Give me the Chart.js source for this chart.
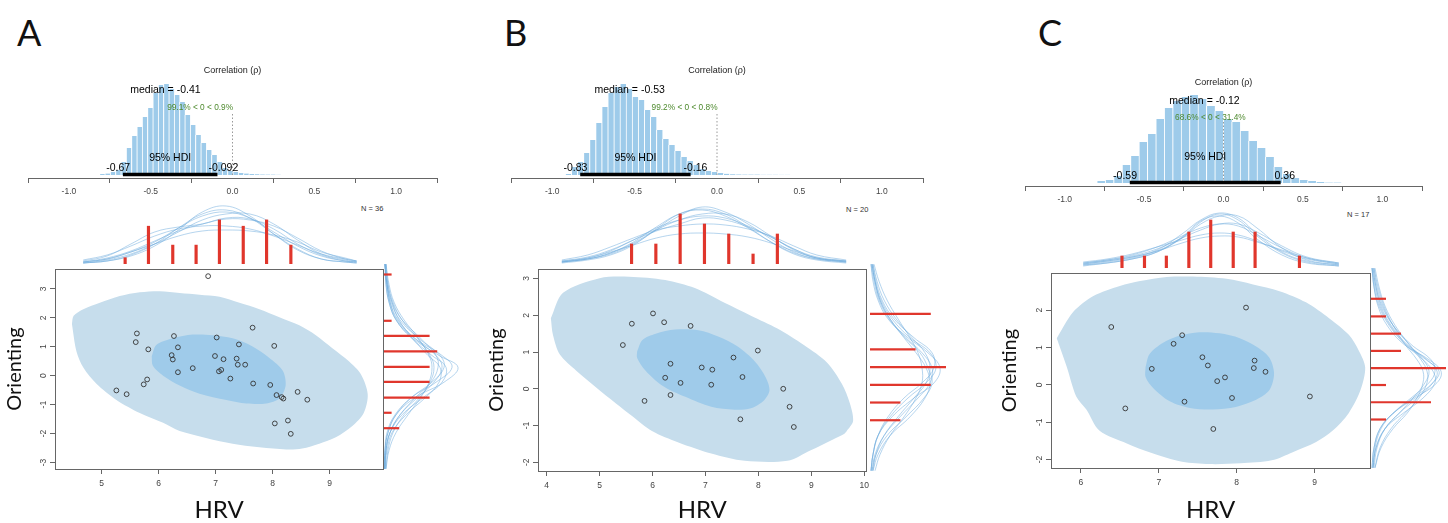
<!DOCTYPE html>
<html><head><meta charset="utf-8">
<script src="https://cdn.jsdelivr.net/npm/chart.js@4.4.1/dist/chart.umd.min.js"></script>
<style>
html,body{margin:0;padding:0;background:#fff}
body{position:relative;width:1448px;height:523px;overflow:hidden}
canvas{position:absolute}
.letter{position:absolute;font-family:Lato,"Open Sans",sans-serif;font-size:36px;color:#111;line-height:1}
.nlab{position:absolute;font-family:"Liberation Sans",Arial,sans-serif;font-size:7.5px;color:#333;line-height:1;white-space:nowrap}
</style></head><body>
<div class="letter" style="left:17px;top:14px">A</div>
<div class="letter" style="left:504px;top:14px">B</div>
<div class="letter" style="left:1038px;top:14px">C</div>
<div class="nlab" style="left:361px;top:205px">N = 36</div>
<div class="nlab" style="left:846px;top:206px">N = 20</div>
<div class="nlab" style="left:1347px;top:211px">N = 17</div>
<script>
// ================= DATA =================
const corrTicks = [-1, -0.5, 0, 0.5, 1];
const corrTickLabels = ['-1.0', '-0.5', '0.0', '0.5', '1.0'];

// ---- Panel A ----
const histStartA = -0.813, histBinA = 0.0326;
const histA = [1,1.5,3,5,13,27,39,48,58,67,82,90,91,86,80,73,60,50,40,32,25,20,13,7,4,3,2,1.5,1,0.8,0.6,0.5,0.4,0.3];
const medianA = -0.41, hdiA = [-0.67, -0.092], hdiLabelsA = ['-0.67', '-0.092'];
const pctLabelA = '99.1% < 0 < 0.9%', pctBelowA = 0.991, medianLabelA = 'median = -0.41';

const hrvA = [6.87,5.62,5.60,5.82,5.26,5.44,5.80,5.74,6.27,6.34,6.23,6.25,6.34,6.60,7.02,6.99,7.14,7.41,7.37,7.39,7.52,7.06,7.10,7.26,7.65,7.66,7.96,8.03,8.07,8.16,8.19,8.44,8.61,8.27,8.04,8.32];
const oriA = [3.44,1.46,1.16,0.91,-0.51,-0.64,-0.13,-0.30,1.37,0.98,0.71,0.56,0.12,0.26,1.32,0.68,0.57,1.08,0.59,0.38,0.38,0.15,0.20,-0.10,1.66,-0.27,-0.32,1.03,-0.67,-0.74,-0.79,-0.56,-0.83,-1.55,-1.65,-2.01];
const outerA = [[4.48,1.79],[4.51,2.07],[4.68,2.30],[4.97,2.52],[5.32,2.75],[5.67,2.88],[6.02,2.92],[6.37,2.86],[6.72,2.80],[7.07,2.73],[7.42,2.52],[7.77,2.30],[8.12,2.02],[8.47,1.74],[8.76,1.40],[9.05,0.95],[9.34,0.50],[9.55,0.05],[9.67,-0.64],[9.60,-1.29],[9.40,-1.74],[9.11,-2.13],[8.82,-2.35],[8.52,-2.52],[8.24,-2.55],[7.30,-2.35],[6.37,-1.91],[6.08,-1.63],[5.67,-1.29],[5.26,-0.84],[4.91,-0.28],[4.68,0.28],[4.56,0.84],[4.48,1.79]];
const innerA = [[5.88,0.67],[5.96,1.06],[6.25,1.29],[6.60,1.42],[6.95,1.40],[7.30,1.29],[7.65,1.01],[7.94,0.62],[8.18,0.17],[8.23,-0.34],[8.12,-0.79],[7.89,-0.96],[7.54,-0.96],[7.19,-0.84],[6.72,-0.62],[6.37,-0.34],[6.08,0.00],[5.90,0.34],[5.88,0.67]];
const xTicksA = [5,6,7,8,9], yTicksA = [-3,-2,-1,0,1,2,3];
const topBinsA = [5.08,5.57,6.08,6.57,7.06,7.56,8.05,8.56], topCountsA = [1,6,3,3,7,6,7,3];
const topGridA = [4.2,4.7,5.2,5.7,6.2,6.7,7.2,7.7,8.2,8.7,9.2,9.7,9.94];
const topDensA = [
 [1,3,8,18,34,52,58,48,30,14,5,2,1],
 [2,5,12,22,36,48,52,46,32,18,8,3,2],
 [4,9,18,28,35,38,38,35,28,19,10,5,3],
 [3,8,20,32,37,40,46,45,35,20,9,3,2],
 [1,4,10,20,32,44,50,50,40,24,10,4,2],
 [2,6,13,23,33,40,45,44,38,26,13,5,3],
 [1,3,9,20,36,50,54,46,30,15,5,2,1],
 [2,5,12,20,28,33,34,33,29,22,12,6,3]
];
const rightBinsA = [3.33,1.77,1.26,0.74,0.22,-0.29,-0.82,-1.33,-1.85], rightCountsA = [1,1,6,7,6,6,6,1,2];
const rightGridA = [3.68,3.0,2.4,1.8,1.2,0.6,0.2,-0.3,-0.8,-1.4,-2.0,-2.6,-3.22];
const rightDensA = [
 [1,3,6,14,30,52,58,50,34,16,6,2,1],
 [1,2,5,12,28,55,74,60,32,12,4,1,0.5],
 [2,4,9,18,33,46,50,46,36,20,9,4,2],
 [1,3,7,16,34,56,60,48,28,12,4,1,0.5],
 [2,5,10,20,34,45,48,45,37,24,12,5,2],
 [1,2,5,12,27,48,62,58,40,18,6,2,1],
 [1,3,8,18,36,52,54,47,32,16,6,2,1],
 [2,4,8,15,28,44,56,55,42,22,8,3,1],
 [1,3,6,13,30,58,68,52,28,11,3,1,0.5]
];

// ---- Panel B ----
const histStartB = -0.921, histBinB = 0.0369;
const histB = [1,8,13,22,35,52,68,82,88,91,86,78,75,65,58,45,36,30,24,18,14,10,6,4,3,2,1.2,0.8,0.6,0.5,0.4,0.4,0.3,0.3,0.3,0.2,0.2];
const medianB = -0.53, hdiB = [-0.83, -0.16], hdiLabelsB = ['-0.83', '-0.16'];
const pctLabelB = '99.2% < 0 < 0.8%', pctBelowB = 0.992, medianLabelB = 'median = -0.53';

const hrvB = [6.01,5.61,6.22,6.72,5.44,7.99,7.53,6.34,6.93,7.13,6.24,7.70,6.53,7.11,8.47,6.34,5.85,8.59,7.66,8.67];
const oriB = [2.05,1.77,1.81,1.71,1.19,1.04,0.85,0.68,0.58,0.52,0.30,0.32,0.16,0.11,0.00,-0.17,-0.33,-0.49,-0.83,-1.04];
const outerB = [[4.08,1.92],[4.31,2.61],[5.00,3.01],[5.56,3.05],[6.24,2.96],[6.80,2.74],[7.36,2.34],[7.86,1.99],[8.36,1.64],[8.86,1.19],[9.30,0.71],[9.58,0.13],[9.73,-0.40],[9.79,-0.88],[9.67,-1.15],[9.61,-1.24],[9.42,-1.37],[8.98,-1.68],[8.55,-1.96],[7.74,-1.96],[7.11,-1.76],[6.49,-1.46],[5.99,-1.15],[5.62,-0.75],[5.31,-0.40],[4.93,0.04],[4.56,0.49],[4.25,0.93],[4.12,1.46],[4.08,1.92]];
const innerB = [[5.71,1.02],[5.81,1.33],[6.06,1.50],[6.43,1.61],[6.87,1.59],[7.24,1.42],[7.61,1.15],[7.93,0.75],[8.14,0.31],[8.21,-0.04],[8.11,-0.31],[7.86,-0.53],[7.55,-0.57],[7.11,-0.49],[6.62,-0.22],[6.18,0.09],[5.87,0.49],[5.71,0.84],[5.71,1.02]];
const xTicksB = [4,5,6,7,8,9,10], yTicksB = [-2,-1,0,1,2,3];
const topBinsB = [5.36,5.89,6.42,6.95,7.48,8.01,8.54], topCountsB = [2,2,5,4,3,1,3];
const topGridB = [3.84,4.4,4.9,5.4,5.9,6.4,6.9,7.4,7.9,8.4,8.9,9.4,10.04];
const topDensB = [
 [2,5,10,20,34,48,57,52,40,25,12,5,2],
 [3,7,14,24,36,44,48,46,38,27,15,7,3],
 [2,5,11,22,37,50,54,48,36,22,11,5,2],
 [4,9,17,26,34,38,40,39,35,28,18,9,4],
 [1,4,9,19,35,50,55,50,37,22,10,4,1],
 [2,6,13,24,33,40,46,44,37,27,15,6,3],
 [3,6,12,19,26,30,31,30,27,21,13,6,3],
 [2,5,11,21,34,44,50,50,42,28,14,6,2]
];
const rightBinsB = [1.93,0.99,0.52,0.05,-0.42,-0.89], rightCountsB = [4,3,5,4,2,2];
const rightGridB = [3.25,2.8,2.3,1.8,1.3,0.9,0.5,0.1,-0.3,-0.8,-1.3,-1.8,-2.23];
const rightDensB = [
 [2,5,10,20,36,52,62,60,48,30,14,5,2],
 [3,7,14,26,42,55,60,56,44,28,14,6,3],
 [1,3,8,18,38,58,70,64,44,22,8,3,1],
 [4,9,17,28,40,48,52,52,46,34,20,10,5],
 [2,5,11,22,40,60,66,56,38,20,8,3,1],
 [1,4,9,19,35,50,58,62,54,36,17,6,2],
 [3,6,12,24,44,62,64,52,34,18,8,3,1],
 [2,5,10,20,34,46,56,60,55,40,20,8,3]
];

// ---- Panel C ----
const histStartC = -0.798, histBinC = 0.0531;
const histC = [2,3,7,18,27,41,49,64,75,82,86,88,84,77,72,64,61,52,42,35,26,16,9,5,3,2,1,0.5,0.4];
const medianC = -0.12, hdiC = [-0.59, 0.36], hdiLabelsC = ['-0.59', '0.36'];
const pctLabelC = '68.6% < 0 < 31.4%', pctBelowC = 0.686, medianLabelC = 'median = -0.12';

const hrvC = [8.12,6.39,7.30,7.19,7.56,7.63,8.23,8.22,8.37,6.91,7.85,7.75,7.94,7.33,8.94,6.57,7.70];
const oriC = [2.07,1.55,1.33,1.10,0.74,0.52,0.65,0.45,0.35,0.43,0.20,0.10,-0.35,-0.45,-0.31,-0.63,-1.18];
const outerC = [[5.69,1.25],[5.90,1.95],[6.16,2.38],[6.50,2.65],[6.76,2.78],[7.10,2.89],[7.44,2.90],[7.87,2.84],[8.21,2.69],[8.55,2.51],[8.89,2.21],[9.19,1.78],[9.44,1.34],[9.57,0.91],[9.65,0.47],[9.59,-0.14],[9.44,-0.75],[9.23,-1.23],[9.02,-1.53],[8.72,-1.80],[8.45,-2.02],[8.05,-2.10],[7.65,-2.12],[7.30,-2.06],[6.90,-1.82],[6.59,-1.57],[6.24,-1.23],[6.07,-0.66],[5.94,-0.31],[5.82,0.47],[5.69,1.25]];
const innerC = [[6.83,0.47],[6.88,0.82],[7.05,1.12],[7.27,1.32],[7.52,1.41],[7.78,1.38],[8.04,1.25],[8.25,1.03],[8.42,0.73],[8.48,0.30],[8.42,-0.14],[8.25,-0.40],[7.99,-0.59],[7.69,-0.66],[7.40,-0.62],[7.14,-0.44],[6.93,-0.09],[6.83,0.21],[6.83,0.47]];
const xTicksC = [6,7,8,9], yTicksC = [-2,-1,0,1,2];
const topBinsC = [6.24,6.60,6.95,7.31,7.66,8.02,8.37,9.08], topCountsC = [1,1,1,3,4,3,3,1];
const topGridC = [5.62,6.0,6.4,6.8,7.2,7.5,7.8,8.1,8.4,8.8,9.2,9.71];
const topDensC = [
 [4,7,11,18,34,48,55,50,34,16,7,3],
 [5,8,13,21,32,40,44,42,33,20,10,4],
 [3,6,10,17,30,44,52,52,40,20,8,3],
 [6,9,14,21,28,33,35,33,27,17,9,4],
 [3,5,9,16,30,46,54,48,32,15,6,2],
 [5,8,12,19,30,38,44,44,36,22,11,5],
 [4,7,11,17,25,30,32,31,26,18,10,5],
 [2,5,9,16,31,47,52,45,29,13,5,2]
];
const rightBinsC = [2.19,1.73,1.28,0.83,0.38,-0.06,-0.51,-0.96], rightCountsC = [1,1,2,2,5,1,4,1];
const rightGridC = [2.99,2.5,2.0,1.5,1.0,0.6,0.3,0.0,-0.4,-0.8,-1.2,-1.7,-2.22];
const rightDensC = [
 [2,5,10,20,36,56,66,62,46,28,14,5,2],
 [4,8,14,24,38,50,56,56,48,34,20,9,4],
 [1,3,7,16,33,58,70,66,44,22,9,3,1],
 [3,7,13,22,34,46,52,52,46,36,22,10,4],
 [2,5,11,22,40,60,64,58,40,22,10,4,2],
 [1,3,8,18,34,52,62,64,52,32,14,5,2],
 [3,6,12,22,38,52,58,54,42,28,14,6,3],
 [1,4,9,19,35,55,68,62,42,22,9,3,1]
];

// ================= STYLE / DRAWING =================
const SANS = '"Liberation Sans", Arial, Helvetica, sans-serif';
const ROUND = 'Lato, "Open Sans", sans-serif';
const HIST_FILL = '#9ecbea';
const OUTER_FILL = '#c6ddec';
const INNER_FILL = '#9fcbea';
const DENS_LINE = 'rgba(110,172,222,0.5)';
const RED = '#e0362c';
const AXIS = '#666';
const GREEN = '#4e8a2e';

function canvasAt(left, top, w, h) {
  const c = document.createElement('canvas');
  c.width = w; c.height = h;
  c.style.left = left + 'px'; c.style.top = top + 'px';
  c.style.width = w + 'px'; c.style.height = h + 'px';
  document.body.appendChild(c);
  return c;
}
const base = {responsive:false, animation:false, devicePixelRatio:1, events:[],
  plugins:{legend:{display:false}, tooltip:{enabled:false}}};
const fixedTicks = vals => s => { s.ticks = vals.map(v => ({value:v})); };

function drawHist(L, d) {
  const cv = canvasAt(L.left, L.top, L.w, L.h);
  const bars = d.heights.map((h, i) => ({x: d.start + (i + 0.5) * d.bin, y: h}));
  const yMax = L.axisY - (L.top + L.padT) - 3;
  const texts = [
    {text:'Correlation (\u03C1)', x:0, y:L.yTitle, adj:0.5, size:9, color:'#222'},
    {text:d.medianLabel, x:d.median, y:L.yMedian, adj:0.5, size:10.5, color:'#000'},
    {text:d.pctLabel, x:0, y:L.yPct, adj:d.pctBelow, size:8.3, color:GREEN},
    {text:'95% HDI', x:(d.hdi[0] + d.hdi[1]) / 2, y:L.yHdiLab, adj:0.5, size:10.5, color:'#000'},
    {text:d.hdiLabels[0], x:d.hdi[0], y:L.yHdiNum, adj:0.7, size:10.5, color:'#000'},
    {text:d.hdiLabels[1], x:d.hdi[1], y:L.yHdiNum, adj:0.3, size:10.5, color:'#000'}
  ];
  const textPlugin = {id:'histText', afterDatasetsDraw(chart) {
    const {ctx, scales:{x, y}} = chart;
    ctx.save(); ctx.textBaseline = 'middle';
    for (const t of texts) {
      ctx.font = t.size + 'px ' + SANS; ctx.fillStyle = t.color;
      const w = ctx.measureText(t.text).width;
      ctx.fillText(t.text, x.getPixelForValue(t.x) - t.adj * w, y.getPixelForValue(t.y));
    }
    ctx.restore();
  }};
  new Chart(cv, {type:'bar', data:{datasets:[
    {type:'line', data:[{x:d.hdi[0], y:0.5}, {x:d.hdi[1], y:0.5}], borderColor:'#000', borderWidth:3.5, pointRadius:0, order:0},
    {type:'line', data:[{x:0, y:0}, {x:0, y:L.dotTop}], borderColor:'#999', borderWidth:1, borderDash:[1.5, 2], pointRadius:0, order:1},
    {type:'bar', data:bars, backgroundColor:HIST_FILL, borderColor:'#fff', borderWidth:{left:1, right:0, top:0, bottom:0}, borderSkipped:false, barPercentage:1, categoryPercentage:1, order:2}
  ]}, options:{...base,
    layout:{padding:{left:L.padL, right:L.padR, top:L.padT, bottom:0}},
    scales:{
      x:{type:'linear', min:-1, max:1, afterBuildTicks:fixedTicks(corrTicks),
        ticks:{autoSkip:false, maxRotation:0, padding:4, color:'#444', font:{family:SANS, size:8.5},
          callback:v => corrTickLabels[corrTicks.indexOf(v)]},
        grid:{drawOnChartArea:false, tickLength:5, color:AXIS}, border:{color:AXIS},
        afterFit:s => { s.height = L.top + L.h - L.axisY; }},
      y:{display:false, min:-3, max:yMax}
    }}, plugins:[textPlugin]});
}

function drawScatter(P, d) {
  const top = P.top - 3;
  const cv = canvasAt(P.canvasLeft, top, P.right + 4 - P.canvasLeft, 523 - top);
  const poly = arr => arr.map(([x, y]) => ({x, y}));
  new Chart(cv, {type:'line', data:{datasets:[
    {data:poly(d.outer), fill:'shape', backgroundColor:OUTER_FILL, borderColor:'rgba(0,0,0,0)', borderWidth:0, pointRadius:0, tension:0.3, order:3},
    {data:poly(d.inner), fill:'shape', backgroundColor:INNER_FILL, borderColor:'rgba(0,0,0,0)', borderWidth:0, pointRadius:0, tension:0.3, order:2},
    {data:d.hrv.map((x, i) => ({x, y:d.ori[i]})), showLine:false, pointRadius:2.4, pointBorderWidth:0.9,
      pointBorderColor:'#333', pointBackgroundColor:'rgba(0,0,0,0)', order:1}
  ]}, options:{...base,
    layout:{padding:{left:0, right:4, top:3, bottom:0}},
    scales:{
      x:{type:'linear', position:'bottom', min:P.xMin, max:P.xMax, afterBuildTicks:fixedTicks(d.xTicks),
        ticks:{autoSkip:false, maxRotation:0, padding:5, color:'#444', font:{family:SANS, size:8.5}, callback:v => String(v)},
        grid:{drawOnChartArea:false, tickLength:5, color:AXIS}, border:{color:AXIS},
        title:{display:true, text:'HRV', color:'#111', font:{family:ROUND, size:24, lineHeight:1}, padding:{top:0, bottom:1}},
        afterFit:s => { s.height = 523 - P.bottom; }},
      y:{type:'linear', position:'left', min:P.yMin, max:P.yMax, afterBuildTicks:fixedTicks(d.yTicks),
        ticks:{autoSkip:false, minRotation:90, maxRotation:90, crossAlign:'center', padding:3, color:'#444', font:{family:SANS, size:8.5}, callback:v => String(v)},
        grid:{drawOnChartArea:false, tickLength:5, color:AXIS}, border:{color:AXIS},
        title:{display:true, text:'Orienting', color:'#111', font:{family:ROUND, size:20, lineHeight:1}, padding:{top:5, bottom:0}},
        afterFit:s => { s.width = P.left - P.canvasLeft; }},
      x2:{type:'linear', position:'top', display:true, ticks:{display:false}, grid:{drawOnChartArea:false, drawTicks:false}, border:{color:AXIS}, afterFit:s => { s.height = 0; }},
      y2:{type:'linear', position:'right', display:true, ticks:{display:false}, grid:{drawOnChartArea:false, drawTicks:false}, border:{color:AXIS}, afterFit:s => { s.width = 0; }}
    }}});
}

function drawTop(P, T, d) {
  const w = P.right - P.left, h = P.top - T.top;
  const cv = canvasAt(P.left, T.top, w, h);
  const ds = d.dens.map(row => ({type:'line', data:d.grid.map((x, i) => ({x, y:row[i]})), borderColor:DENS_LINE,
    borderWidth:1, pointRadius:0, tension:0.4, yAxisID:'y', order:1}));
  ds.push({type:'bar', data:d.bins.map((x, i) => ({x, y:d.counts[i]})), backgroundColor:RED, barThickness:2.5, yAxisID:'y2', order:0});
  new Chart(cv, {type:'line', data:{datasets:ds}, options:{...base,
    layout:{padding:0},
    scales:{
      x:{type:'linear', display:false, min:P.xMin, max:P.xMax},
      y:{display:false, min:0, max:h},
      y2:{display:false, min:0, max:h / T.pxPerCount}
    }}});
}

function drawRight(P, R, d) {
  const h = P.bottom - P.top;
  const cv = canvasAt(P.right, P.top, R.w, h);
  const ds = d.dens.map(row => ({data:d.grid.map((y, i) => ({x:row[i], y})), borderColor:DENS_LINE,
    borderWidth:1, pointRadius:0, tension:0.4, xAxisID:'x', order:1}));
  d.bins.forEach((b, i) => ds.push({data:[{x:0, y:b}, {x:d.counts[i], y:b}], borderColor:RED, borderWidth:2.2,
    pointRadius:0, xAxisID:'x2', order:0}));
  new Chart(cv, {type:'line', data:{datasets:ds}, options:{...base,
    layout:{padding:0},
    scales:{
      x:{type:'linear', display:false, min:0, max:R.w},
      x2:{type:'linear', display:false, min:0, max:R.w / R.pxPerCount},
      y:{type:'linear', display:false, min:P.yMin, max:P.yMax}
    }}});
}

// ================= LAYOUT =================
const panels = [
  {hist:{left:0, top:55, w:465, h:150, padL:28, padR:28, padT:5, axisY:178, yTitle:104, yMedian:85, yPct:67, yHdiLab:17, yHdiNum:7, dotTop:62},
   plot:{canvasLeft:0, left:55, right:384, top:264, bottom:469, xMin:4.183, xMax:9.94, yMin:-3.225, yMax:3.684},
   topM:{top:195, pxPerCount:6.3}, rightM:{w:80, pxPerCount:7.6},
   h:{start:histStartA, bin:histBinA, heights:histA, median:medianA, medianLabel:medianLabelA, hdi:hdiA, hdiLabels:hdiLabelsA, pctLabel:pctLabelA, pctBelow:pctBelowA},
   s:{hrv:hrvA, ori:oriA, outer:outerA, inner:innerA, xTicks:xTicksA, yTicks:yTicksA},
   t:{grid:topGridA, dens:topDensA, bins:topBinsA, counts:topCountsA},
   r:{grid:rightGridA, dens:rightDensA, bins:rightBinsA, counts:rightCountsA}},
  {hist:{left:480, top:55, w:480, h:150, padL:31, padR:37, padT:5, axisY:178, yTitle:104, yMedian:85, yPct:67, yHdiLab:17, yHdiNum:7, dotTop:62},
   plot:{canvasLeft:482, left:538, right:870, top:264, bottom:471, xMin:3.837, xMax:10.043, yMin:-2.237, yMax:3.256},
   topM:{top:195, pxPerCount:10}, rightM:{w:80, pxPerCount:15.2},
   h:{start:histStartB, bin:histBinB, heights:histB, median:medianB, medianLabel:medianLabelB, hdi:hdiB, hdiLabels:hdiLabelsB, pctLabel:pctLabelB, pctBelow:pctBelowB},
   s:{hrv:hrvB, ori:oriB, outer:outerB, inner:innerB, xTicks:xTicksB, yTicks:yTicksB},
   t:{grid:topGridB, dens:topDensB, bins:topBinsB, counts:topCountsB},
   r:{grid:rightGridB, dens:rightDensB, bins:rightBinsB, counts:rightCountsB}},
  {hist:{left:1000, top:63, w:448, h:150, padL:25, padR:26, padT:5, axisY:186, yTitle:100, yMedian:82, yPct:65, yHdiLab:26, yHdiNum:7, dotTop:61},
   plot:{canvasLeft:995, left:1051, right:1371, top:268, bottom:468, xMin:5.616, xMax:9.713, yMin:-2.225, yMax:2.993},
   topM:{top:200, pxPerCount:12}, rightM:{w:77, pxPerCount:15},
   h:{start:histStartC, bin:histBinC, heights:histC, median:medianC, medianLabel:medianLabelC, hdi:hdiC, hdiLabels:hdiLabelsC, pctLabel:pctLabelC, pctBelow:pctBelowC},
   s:{hrv:hrvC, ori:oriC, outer:outerC, inner:innerC, xTicks:xTicksC, yTicks:yTicksC},
   t:{grid:topGridC, dens:topDensC, bins:topBinsC, counts:topCountsC},
   r:{grid:rightGridC, dens:rightDensC, bins:rightBinsC, counts:rightCountsC}}
];

for (const p of panels) {
  drawHist(p.hist, p.h);
  drawTop(p.plot, p.topM, p.t);
  drawScatter(p.plot, p.s);
  drawRight(p.plot, p.rightM, p.r);
}
</script>
</body></html>
